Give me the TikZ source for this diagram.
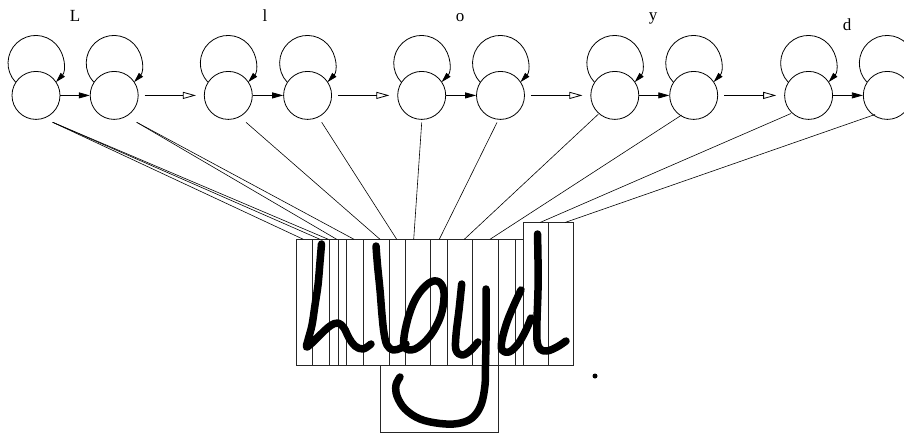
\documentclass[tikz,border=0pt]{standalone}
\usepackage{fontspec}
\setmainfont{Liberation Serif}
\usetikzlibrary{arrows.meta}
\begin{document}
\begin{tikzpicture}[x=1pt,y=1pt,
  state/.style={circle,draw,minimum size=48pt,inner sep=0pt,line width=0.8pt},
  lab/.style={font=\fontsize{17}{19}\selectfont,anchor=base,inner sep=0pt},
  farrow/.style={line width=0.8pt,-{Triangle[length=11pt,width=6pt]}},
  oarrow/.style={line width=0.8pt,-{Triangle[open,length=13pt,width=7pt]}},
  loopline/.style={line width=0.8pt,-{Triangle[length=10pt,width=5.5pt]}},
  link/.style={line width=0.6pt},
  box/.style={line width=0.7pt,draw=black!85},
  hand/.style={line width=7.5pt,line cap=round,line join=round}]
\useasboundingbox (0,0) rectangle (904,-434);
\clip (0,0) rectangle (904,-434);
% states and self loops
\foreach \x/\n in {36/s1,114.2/s2,228.3/s3,307.6/s4,421.7/s5,500.5/s6,614.8/s7,693.7/s8,808.6/s9,887.3/s10}{
  \node[state] (\n) at (\x,-95.4) {};
  \draw[loopline] (\n.147) arc[start angle=223.2,end angle=-43.2,radius=27.7];
}
% labels
\node[lab] (lL) at (75,-21) {L};
\node[lab] (ll) at (265,-21) {l};
\node[lab] (lo) at (460,-21) {o};
\node[lab] (ly) at (653,-20.5) {y};
\node[lab] (ld) at (847,-30) {d};
% arrows inside pairs
\draw[farrow] (s1) -- (s2);
\draw[farrow] (s3) -- (s4);
\draw[farrow] (s5) -- (s6);
\draw[farrow] (s7) -- (s8);
\draw[farrow] (s9) -- (s10);
% arrows between pairs
\draw[oarrow,shorten <=6pt,shorten >=8pt] (s2) -- (s3);
\draw[oarrow,shorten <=6pt,shorten >=8pt] (s4) -- (s5);
\draw[oarrow,shorten <=6pt,shorten >=8pt] (s6) -- (s7);
\draw[oarrow,shorten <=6pt,shorten >=8pt] (s8) -- (s9);
% frames of the image
\draw[box] (296,-239.3) rectangle (523.3,-365.3);
\foreach \x in {312.7,329.3,338.3,346.7,363.3,389,405.7,430.7,447.3,472.7,498.3,515}{
  \draw[box] (\x,-239.3) -- (\x,-365.3);
}
\draw[box] (523.3,-222.5) rectangle (548.3,-365.3);
\draw[box] (548.3,-222.5) rectangle (573.3,-365.3);
\draw[box] (380,-365.3) rectangle (498.3,-432.7);
% connector ends
\coordinate (a1) at (52.7,-122.3);
\coordinate (a2) at (136.7,-122.3);
\coordinate (a3) at (246,-122.3);
\coordinate (a4) at (321.7,-122.3);
\coordinate (a5) at (421.7,-122.5);
\coordinate (a6) at (497,-122.5);
\coordinate (a7) at (598.3,-114.2);
\coordinate (a8) at (681.7,-115);
\coordinate (a9) at (791,-113.5);
\coordinate (a10) at (875,-114.5);
\coordinate (b1) at (303.3,-239.3);
\coordinate (b2) at (320,-239.3);
\coordinate (b3) at (328.3,-239.3);
\coordinate (b4) at (336.7,-239.3);
\coordinate (b5) at (354,-239.3);
\coordinate (b6) at (380,-239.3);
\coordinate (b7) at (396.7,-239.3);
\coordinate (b8) at (413.7,-239.3);
\coordinate (b9) at (439.3,-239.3);
\coordinate (b10) at (464.3,-239.3);
\coordinate (b11) at (490,-239.3);
\coordinate (b12) at (540,-222.5);
\coordinate (b13) at (565,-222.5);
\draw[link] (a1) -- (b1);
\draw[link] (a1) -- (b2);
\draw[link] (a1) -- (b3);
\draw[link] (a2) -- (b4);
\draw[link] (a2) -- (b5);
\draw[link] (a3) -- (b6);
\draw[link] (a4) -- (b7);
\draw[link] (a5) -- (b8);
\draw[link] (a6) -- (b9);
\draw[link] (a7) -- (b10);
\draw[link] (a8) -- (b11);
\draw[link] (a9) -- (b12);
\draw[link] (a10) -- (b13);
% handwriting "Lloyd"
\draw[hand] plot[smooth,tension=0.6] coordinates {(321.5,-244) (320,-262) (318,-285) (315,-305) (312,-325) (308,-340) (306.5,-347) (312,-343) (320,-335) (330,-326) (338,-323) (344,-328) (349,-338) (355,-346) (363,-349) (371,-344)};
\draw[hand] plot[smooth,tension=0.6] coordinates {(376,-246) (377.5,-265) (380,-290) (382,-315) (384,-333) (387,-345) (393,-350) (401,-348) (406,-344)};
\draw[hand] plot[smooth cycle,tension=0.6] coordinates {(404,-346) (407,-322) (416,-298) (429,-283) (439,-282) (444,-293) (441,-315) (430,-336) (415,-349)};
\draw[hand] plot[smooth,tension=0.6] coordinates {(461.7,-284) (459,-310) (456,-335) (456,-350) (462,-355) (470,-351) (478,-342)};
\draw[hand] plot[smooth,tension=0.6] coordinates {(486,-289) (486,-315) (486,-340) (485.5,-365) (485,-385) (481,-405) (472,-418) (458,-423.5) (440,-423.5) (420,-419) (405,-409) (397,-396) (396,-385) (400,-377)};
\draw[hand] plot[smooth,tension=0.6] coordinates {(521,-290) (514,-305) (507,-322) (502,-340) (502,-350) (509,-352) (518,-344) (526,-330) (531,-318)};
\draw[hand] plot[smooth,tension=0.6] coordinates {(537.5,-234) (538,-260) (538,-290) (537,-320) (537,-340) (540,-349) (547,-351) (557,-347) (566,-341)};
\fill (595,-376) circle[radius=2.5];
\end{tikzpicture}
\end{document}
